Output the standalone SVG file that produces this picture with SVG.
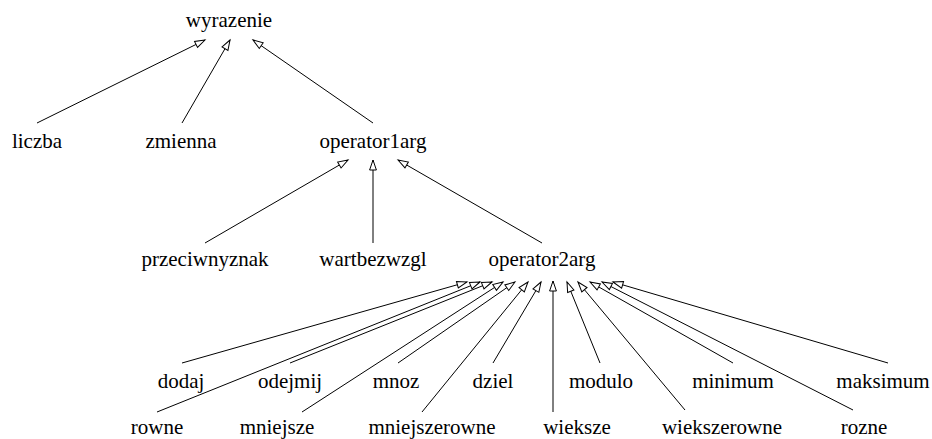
<svg xmlns="http://www.w3.org/2000/svg" width="932" height="439" viewBox="0 0 932 439">
<style>
.e{stroke:#000;stroke-width:1;fill:none;marker-end:url(#ah)}
</style>
<defs>
<marker id="ah" markerUnits="userSpaceOnUse" orient="auto" refX="10" refY="4" markerWidth="12" markerHeight="9" viewBox="0 0 12 9" overflow="visible">
<path d="M10,4 L0,0.6 L0,7.4 Z" fill="#fff" stroke="#000" stroke-width="1"/>
</marker>
</defs>
<rect width="932" height="439" fill="#fff"/>
<g id="edges">
<line class="e" x1="37" y1="123" x2="205" y2="40"/>
<line class="e" x1="182" y1="123" x2="230" y2="40"/>
<line class="e" x1="373" y1="123" x2="253" y2="40"/>
<line class="e" x1="205" y1="243" x2="348" y2="160"/>
<line class="e" x1="373" y1="243" x2="373" y2="160"/>
<line class="e" x1="542" y1="243" x2="398" y2="160"/>
<line class="e" x1="182" y1="363" x2="467" y2="282"/>
<line class="e" x1="157" y1="412" x2="480" y2="282"/>
<line class="e" x1="290" y1="363" x2="492" y2="282"/>
<line class="e" x1="302" y1="412" x2="503" y2="282"/>
<line class="e" x1="398" y1="363" x2="515" y2="282"/>
<line class="e" x1="422" y1="412" x2="528" y2="282"/>
<line class="e" x1="493" y1="363" x2="541" y2="282"/>
<line class="e" x1="553" y1="412" x2="553" y2="281"/>
<line class="e" x1="600" y1="363" x2="567" y2="282"/>
<line class="e" x1="685" y1="410" x2="578" y2="282"/>
<line class="e" x1="733" y1="363" x2="590" y2="282"/>
<line class="e" x1="853" y1="410" x2="602" y2="282"/>
<line class="e" x1="888" y1="363" x2="613" y2="282"/>
</g>
<g font-family="'Liberation Serif', 'DejaVu Serif', serif" font-size="21" fill="#000" text-anchor="middle">
<g id="wyrazenie"><text x="229" y="27">wyrazenie</text></g>
<g id="liczba"><text x="37" y="148">liczba</text></g>
<g id="zmienna"><text x="181" y="148">zmienna</text></g>
<g id="operator1arg"><text x="373" y="148">operator1arg</text></g>
<g id="przeciwnyznak"><text x="205" y="266">przeciwnyznak</text></g>
<g id="wartbezwzgl"><text x="373" y="266">wartbezwzgl</text></g>
<g id="operator2arg"><text x="542" y="266">operator2arg</text></g>
<g id="dodaj"><text x="181" y="388">dodaj</text></g>
<g id="odejmij"><text x="290" y="388">odejmij</text></g>
<g id="mnoz"><text x="396" y="388">mnoz</text></g>
<g id="dziel"><text x="493" y="388">dziel</text></g>
<g id="modulo"><text x="601" y="388">modulo</text></g>
<g id="minimum"><text x="733" y="388">minimum</text></g>
<g id="maksimum"><text x="883" y="388">maksimum</text></g>
<g id="rowne"><text x="157" y="434">rowne</text></g>
<g id="mniejsze"><text x="277" y="434">mniejsze</text></g>
<g id="mniejszerowne"><text x="432" y="434">mniejszerowne</text></g>
<g id="wieksze"><text x="577" y="434">wieksze</text></g>
<g id="wiekszerowne"><text x="722" y="434">wiekszerowne</text></g>
<g id="rozne"><text x="864" y="434">rozne</text></g>
</g>
</svg>
